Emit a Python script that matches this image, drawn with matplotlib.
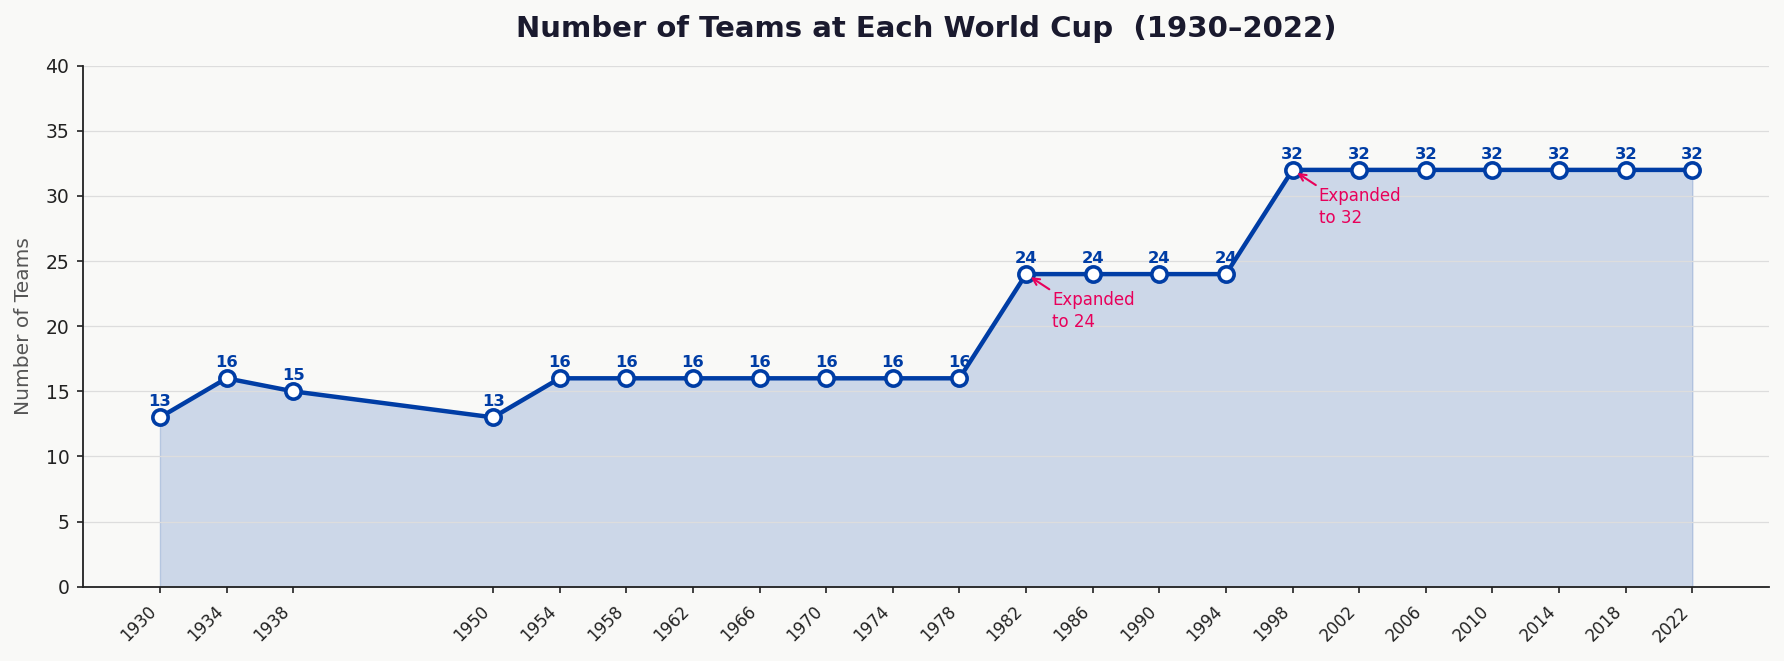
import matplotlib
matplotlib.use("Agg")
import matplotlib.pyplot as plt

years = [1930, 1934, 1938, 1950, 1954, 1958, 1962, 1966, 1970, 1974, 1978,
         1982, 1986, 1990, 1994, 1998, 2002, 2006, 2010, 2014, 2018, 2022]
teams = [13, 16, 15, 13, 16, 16, 16, 16, 16, 16, 16,
         24, 24, 24, 24, 32, 32, 32, 32, 32, 32, 32]
annot_years = [1982, 1998]
annot_values = [24, 32]
annot_texts = ["Expanded\nto 24", "Expanded\nto 32"]
yticks = [0, 5, 10, 15, 20, 25, 30, 35, 40]

BLUE = "#003DA5"
PINK = "#E8005A"
BG = "#F9F9F7"

W, H = 1784, 661
fig = plt.figure(figsize=(W / 100, H / 100), dpi=100, facecolor=BG)
ax = fig.add_axes([83.3 / W, 1 - 586.7 / H, (1769 - 83.3) / W, (586.7 - 65.7) / H])
ax.set_facecolor(BG)

ax.fill_between(years, teams, 0, color=BLUE, alpha=0.18, zorder=0.2)
ax.plot(years, teams, color=BLUE, linewidth=3.2, marker="o", markersize=11,
        markerfacecolor="white", markeredgecolor=BLUE, markeredgewidth=2.6, zorder=3)

for x, y in zip(years, teams):
    ax.annotate(str(y), (x, y), xytext=(0, 8), textcoords="offset pixels",
                ha="center", va="bottom", fontsize=11.8, fontweight="bold",
                color=BLUE, zorder=4)

for x, y, t in zip(annot_years, annot_values, annot_texts):
    ax.annotate(t, (x, y), xytext=(26, -17), textcoords="offset pixels",
                ha="left", va="top", fontsize=12, color=PINK, linespacing=1.3,
                arrowprops=dict(arrowstyle="->", color=PINK, lw=1.5,
                                shrinkA=0, shrinkB=4, relpos=(0, 1)),
                zorder=5)

ax.set_ylim(0, 40)
ax.set_yticks(yticks)
ax.set_xticks(years)
ax.set_xticklabels([str(y) for y in years], rotation=45, ha="right",
                   fontsize=12, color="#222222")
ax.tick_params(axis="y", labelsize=13.5, length=4.5, width=1.2, pad=5.5,
               colors="#222222")
ax.tick_params(axis="x", length=4.5, width=1.2, pad=7, colors="#222222")
ax.margins(x=0.05)

ax.set_axisbelow(True)
ax.grid(axis="y", color="#DDDDDD", linewidth=0.9, zorder=0.5)
for s in ["top", "right"]:
    ax.spines[s].set_visible(False)
for s in ["left", "bottom"]:
    ax.spines[s].set_color("#222222")
    ax.spines[s].set_linewidth(1.3)

ax.set_ylabel("Number of Teams", fontsize=14.5, color="#555555", labelpad=9)
ax.set_title("Number of Teams at Each World Cup  (1930\u20132022)",
             fontsize=21, fontweight="bold", color="#1A1A2E", pad=20.5)

fig.savefig("out.png", dpi=100, facecolor=BG)
